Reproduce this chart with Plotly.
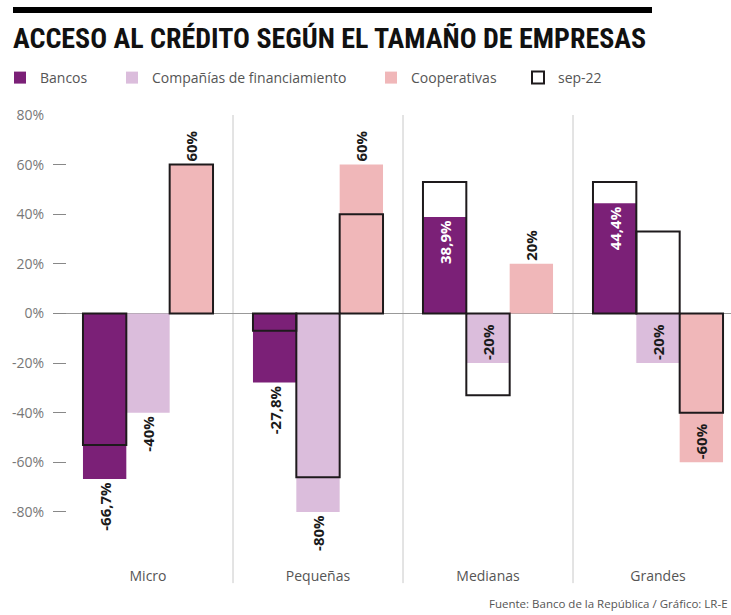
import plotly.graph_objects as go

# ---- data ----
categories = ["Micro", "Pequeñas", "Medianas", "Grandes"]
bancos = [-66.7, -27.8, 38.9, 44.4]
companias = [-40, -80, -20, -20]
cooperativas = [60, 60, 20, -60]
sep22_bancos = [-53, -7, 53, 53]
sep22_companias = [None, -66, -33, 33]
sep22_cooperativas = [60, 40, None, -40]
y_tickvals = [80, 60, 40, 20, 0, -20, -40, -60, -80]
y_ticktext = ["80%", "60%", "40%", "20%", "0%", "-20%", "-40%", "-60%", "-80%"]

# ---- style ----
FONT = "Open Sans, Noto Sans, sans-serif"
TITLE_FONT = "Roboto Condensed, Liberation Sans Narrow, Open Sans, sans-serif"
C_BANCOS = "#7b2077"
C_COMP = "#dbbddc"
C_COOP = "#f0b7b9"
OUTLINE = "#1e1a1c"
BAR_W = 0.255

pos_bancos = ["outside", "outside", "inside", "inside"]
pos_comp = ["outside", "outside", "inside", "inside"]
pos_coop = ["outside", "outside", "outside", "inside"]


def fmt(v):
    if abs(v - round(v)) < 1e-9:
        return f"{int(round(v))}%"
    return f"{v:.1f}%".replace(".", ",")


fig = go.Figure()


def add_series(name, vals, color, offset, positions, inside_color, legend):
    fig.add_trace(go.Bar(
        name=name, x=categories, y=vals, width=BAR_W, offset=offset,
        marker=dict(color=color, line=dict(width=0)),
        text=[fmt(v) for v in vals], textposition=positions, textangle=-90,
        insidetextanchor="end", constraintext="none", cliponaxis=False,
        textfont=dict(family=FONT, size=15, color="#1a1a1a", weight="bold"),
        insidetextfont=dict(family=FONT, size=15, color=inside_color, weight="bold"),
        outsidetextfont=dict(family=FONT, size=15, color="#1a1a1a", weight="bold"),
        hoverinfo="skip", legend=legend,
    ))


add_series("Bancos", bancos, C_BANCOS, -1.5 * BAR_W, pos_bancos, "#ffffff", "legend")
add_series("Compañías de financiamiento", companias, C_COMP, -0.5 * BAR_W, pos_comp, "#1a1a1a", "legend2")
add_series("Cooperativas", cooperativas, C_COOP, 0.5 * BAR_W, pos_coop, "#1a1a1a", "legend3")

for i, (vals, off) in enumerate([(sep22_bancos, -1.5 * BAR_W),
                                 (sep22_companias, -0.5 * BAR_W),
                                 (sep22_cooperativas, 0.5 * BAR_W)]):
    fig.add_trace(go.Bar(
        name="sep-22", x=categories, y=vals, width=BAR_W, offset=off,
        marker=dict(color="rgba(0,0,0,0)", line=dict(color=OUTLINE, width=2)),
        legendgroup="sep22", showlegend=(i == 0), hoverinfo="skip",
        legend="legend4",
    ))

# vertical dividers between categories
for xv in [0.5, 1.5, 2.5]:
    fig.add_shape(type="line", xref="x", yref="paper", x0=xv, x1=xv,
                  y0=-0.038, y1=1.0, line=dict(color="#c8c8c8", width=1),
                  layer="below")

# top black rule
fig.add_shape(type="line", xref="paper", yref="paper",
              x0=(13 - 53) / 678, x1=(652 - 53) / 678,
              y0=(566 - 10) / 451, y1=(566 - 10) / 451,
              line=dict(color="#000000", width=6))

fig.add_annotation(text="Fuente: Banco de la República / Gráfico: LR-E",
                   xref="paper", yref="paper", x=(730 - 53) / 678, y=(566 - 603) / 451,
                   xanchor="right", yanchor="middle", showarrow=False,
                   font=dict(family=FONT, size=11.5, color="#555555"))

legend_common = dict(orientation="h", xref="container", yref="container",
                     y=1 - 78 / 615, xanchor="left", yanchor="middle",
                     font=dict(family=FONT, size=14, color="#555555"),
                     itemclick=False, bgcolor="rgba(0,0,0,0)")

fig.update_layout(
    width=731, height=615,
    margin=dict(l=53, r=0, t=115, b=49),
    paper_bgcolor="white", plot_bgcolor="white",
    barmode="overlay",
    title=dict(text="ACCESO AL CRÉDITO SEGÚN EL TAMAÑO DE EMPRESAS",
               x=13 / 731, xanchor="left", xref="container",
               y=1 - 38 / 615, yanchor="middle", yref="container",
               font=dict(family=TITLE_FONT, size=28, color="#111111", weight="bold")),
    legend=dict(x=0 / 731, **legend_common),
    legend2=dict(x=112 / 731, **legend_common),
    legend3=dict(x=371 / 731, **legend_common),
    legend4=dict(x=518 / 731, **legend_common),
    showlegend=True,
    xaxis=dict(range=[-0.5588, 3.4294], showgrid=False, zeroline=False,
               showline=False, ticks="",
               tickfont=dict(family=FONT, size=14, color="#555555")),
    yaxis=dict(range=[-101.8, 80], tickvals=y_tickvals, ticktext=y_ticktext,
               showgrid=False, zeroline=True, zerolinecolor="#999999", zerolinewidth=1,
               showline=False, ticks="inside", ticklen=13, tickcolor="#888888",
               tickwidth=1, ticklabelstandoff=8,
               tickfont=dict(family=FONT, size=14, color="#777777")),
    font=dict(family=FONT),
)

fig.write_html("out.html", config={"displayModeBar": False},
               post_script="document.body.style.margin='0';")
